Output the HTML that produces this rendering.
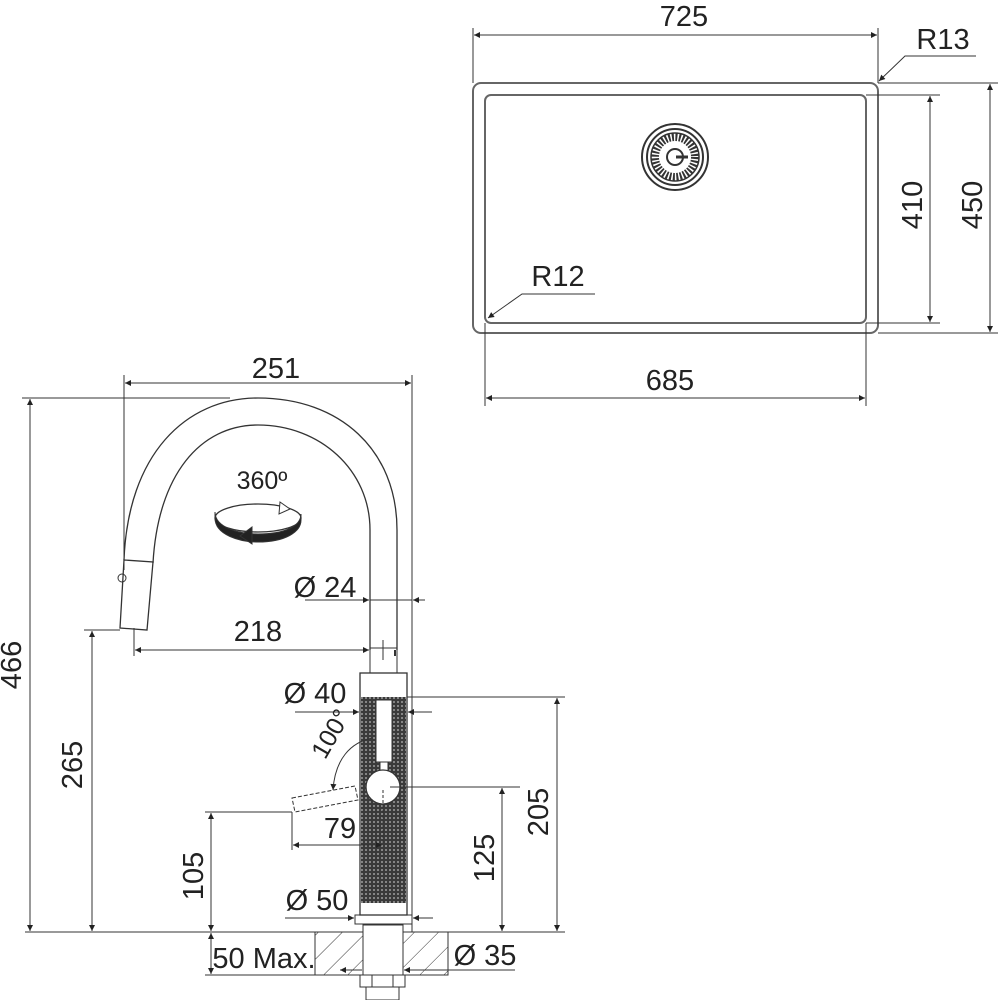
<!DOCTYPE html>
<html><head><meta charset="utf-8"><style>
html,body{margin:0;padding:0;background:#fff}
svg{display:block}
text{font-family:"Liberation Sans",sans-serif;fill:#222}
</style></head><body>
<svg width="1000" height="1000" viewBox="0 0 1000 1000" xmlns="http://www.w3.org/2000/svg">
<defs>
<marker id="a" viewBox="0 0 10 10" refX="10" refY="5" markerWidth="14" markerHeight="6" markerUnits="userSpaceOnUse" orient="auto-start-reverse"><path d="M0,0 L10,5 L0,10 z" fill="#222"/></marker>
<pattern id="knurl" width="4" height="4" patternUnits="userSpaceOnUse"><rect width="4" height="4" fill="#3a3a3a"/><circle cx="2" cy="2" r="0.9" fill="#bbb"/></pattern>
<pattern id="hat" width="17" height="17" patternUnits="userSpaceOnUse" patternTransform="rotate(45)"><line x1="0" y1="0" x2="0" y2="17" stroke="#333" stroke-width="1"/></pattern>
</defs>
<g stroke="#333" fill="none" stroke-width="1">
<rect x="473" y="83" width="405" height="250" rx="8" stroke-width="2" stroke="#666"/>
<rect x="485" y="95" width="381" height="228" rx="6" stroke-width="2" stroke="#666"/>
<circle cx="675" cy="157" r="33" stroke-width="2"/>
<circle cx="675" cy="157" r="28" stroke-width="2"/>
<circle cx="675" cy="157" r="20" stroke="#333" stroke-width="8" stroke-dasharray="2 1.5"/>
<circle cx="675" cy="157" r="24" stroke-width="1.5"/>
<circle cx="675" cy="157" r="8" stroke-width="2"/>
<line x1="676" y1="157" x2="688" y2="157" stroke-width="3"/>
<line x1="473" y1="28" x2="473" y2="83"/><line x1="878" y1="28" x2="878" y2="83"/>
<line x1="474" y1="35" x2="877" y2="35" marker-start="url(#a)" marker-end="url(#a)"/>
<polyline points="976,56 905,56 879,81" marker-end="url(#a)"/>
<line x1="866" y1="95" x2="940" y2="95"/><line x1="866" y1="323" x2="940" y2="323"/>
<line x1="930" y1="96" x2="930" y2="322" marker-start="url(#a)" marker-end="url(#a)"/>
<line x1="878" y1="83" x2="998" y2="83"/><line x1="878" y1="333" x2="998" y2="333"/>
<line x1="990" y1="84" x2="990" y2="332" marker-start="url(#a)" marker-end="url(#a)"/>
<polyline points="595,294 522,294 488,318" marker-end="url(#a)"/>
<line x1="485" y1="323" x2="485" y2="406"/><line x1="866" y1="323" x2="866" y2="406"/>
<line x1="486" y1="398" x2="865" y2="398" marker-start="url(#a)" marker-end="url(#a)"/>

<line x1="124" y1="375" x2="124" y2="570"/><line x1="412" y1="375" x2="412" y2="932"/>
<line x1="125" y1="383" x2="411" y2="383" marker-start="url(#a)" marker-end="url(#a)"/>
<line x1="22" y1="398" x2="230" y2="398"/>
<line x1="30" y1="399" x2="30" y2="931" marker-start="url(#a)" marker-end="url(#a)"/>
<path d="M124,560 C128,455 185,398 258,398 C340,398 397,450 397,530 L397,650" stroke-width="1.3"/>
<path d="M153,563 C158,475 200,425 258,425 C320,425 370,470 370,530 L370,650" stroke-width="1.3"/>
<path d="M124,560 L153,562 L147,630 L120,628 Z" stroke-width="1.3"/>
<circle cx="122" cy="578" r="4"/>
<line x1="134" y1="628" x2="134" y2="656"/><line x1="383" y1="640" x2="383" y2="660"/>
<line x1="135" y1="650" x2="369" y2="650" marker-start="url(#a)" marker-end="url(#a)"/>
<line x1="395" y1="650" x2="395" y2="656" stroke-width="2"/>
<line x1="305" y1="600" x2="369" y2="600" marker-end="url(#a)"/>
<line x1="412" y1="600" x2="370" y2="600"/>
<line x1="425" y1="600" x2="413" y2="600" marker-end="url(#a)"/>
<line x1="84" y1="630" x2="120" y2="630"/>
<line x1="92" y1="631" x2="92" y2="931" marker-start="url(#a)" marker-end="url(#a)"/>
<line x1="25" y1="932" x2="565" y2="932"/>
<rect x="370" y="648" width="27" height="25"/>
<rect x="360" y="673" width="47" height="242" stroke-width="1.3"/>
<rect x="361" y="697" width="45" height="206" fill="url(#knurl)" stroke="none"/>
<rect x="376" y="700" width="16" height="62" fill="#fff"/>
<rect x="380" y="762" width="8" height="14" fill="#fff"/>
<circle cx="383" cy="787" r="17" fill="#fff" stroke-width="1.3"/>
<line x1="383" y1="790" x2="383" y2="845" stroke-dasharray="3 2"/>
<path d="M292,798 L355,786 L358,800 L295,812 Z" stroke-dasharray="4 2"/>
<rect x="355" y="915" width="57" height="9"/>
<rect x="315" y="932" width="48" height="43" fill="url(#hat)"/>
<rect x="403" y="932" width="45" height="43" fill="url(#hat)"/>
<rect x="315" y="932" width="133" height="43"/>
<rect x="363" y="925" width="40" height="50" fill="#fff"/>
<rect x="360" y="975" width="45" height="12"/>
<rect x="366" y="987" width="33" height="13"/>
<line x1="372" y1="975" x2="372" y2="987"/><line x1="393" y1="975" x2="393" y2="987"/>
<line x1="295" y1="712" x2="359" y2="712" marker-end="url(#a)"/>
<line x1="432" y1="712" x2="408" y2="712" marker-end="url(#a)"/>
<line x1="407" y1="697" x2="565" y2="697"/>
<line x1="557" y1="698" x2="557" y2="931" marker-start="url(#a)" marker-end="url(#a)"/>
<line x1="390" y1="787" x2="520" y2="787"/>
<line x1="502" y1="788" x2="502" y2="931" marker-start="url(#a)" marker-end="url(#a)"/>
<line x1="205" y1="812" x2="292" y2="812"/>
<line x1="211" y1="813" x2="211" y2="931" marker-start="url(#a)" marker-end="url(#a)"/>
<line x1="292" y1="812" x2="292" y2="850"/>
<line x1="293" y1="845" x2="382" y2="845" marker-start="url(#a)" marker-end="url(#a)"/>
<path d="M373,738 C350,742 335,760 333,790" marker-end="url(#a)"/>
<line x1="285" y1="918" x2="354" y2="918" marker-end="url(#a)"/>
<line x1="433" y1="918" x2="413" y2="918" marker-end="url(#a)"/>
<line x1="340" y1="970" x2="362" y2="970" marker-start="url(#a)"/>
<line x1="404" y1="970" x2="515" y2="970" marker-start="url(#a)"/>
<line x1="205" y1="975" x2="315" y2="975"/>
<line x1="211" y1="933" x2="211" y2="974" marker-start="url(#a)" marker-end="url(#a)"/>
<ellipse cx="258" cy="518" rx="43" ry="14" stroke-width="1.3"/>
<path d="M215,518 C215,535 240,542 258,542 C285,542 301,532 301,520 L301,514 C301,526 285,534 258,534 C240,534 215,528 215,512 Z" fill="#222"/>
<path d="M240,536 L252,527 L252,544 Z" fill="#222"/>
<path d="M280,502 L290,509 L279,514 Z" fill="#fff"/>
</g>
<g font-size="29">
<text x="684" y="26" text-anchor="middle">725</text>
<text x="943" y="49" text-anchor="middle">R13</text>
<text x="558" y="286" text-anchor="middle">R12</text>
<text x="670" y="390" text-anchor="middle">685</text>
<text transform="translate(922,205) rotate(-90)" text-anchor="middle">410</text>
<text transform="translate(982,205) rotate(-90)" text-anchor="middle">450</text>
<text x="276" y="378" text-anchor="middle">251</text>
<text transform="translate(21,665) rotate(-90)" text-anchor="middle">466</text>
<text x="262" y="489" text-anchor="middle" font-size="25">360º</text>
<text x="325" y="597" text-anchor="middle">Ø 24</text>
<text x="258" y="641" text-anchor="middle">218</text>
<text transform="translate(82,765) rotate(-90)" text-anchor="middle">265</text>
<text x="315" y="703" text-anchor="middle">Ø 40</text>
<text transform="translate(338,738) rotate(-60)" text-anchor="middle" font-size="25">100°</text>
<text transform="translate(548,812) rotate(-90)" text-anchor="middle">205</text>
<text x="340" y="838" text-anchor="middle">79</text>
<text transform="translate(494,858) rotate(-90)" text-anchor="middle">125</text>
<text transform="translate(203,876) rotate(-90)" text-anchor="middle">105</text>
<text x="317" y="910" text-anchor="middle">Ø 50</text>
<text x="485" y="965" text-anchor="middle">Ø 35</text>
<text x="264" y="968" text-anchor="middle">50 Max.</text>
</g>
</svg>
</body></html>
